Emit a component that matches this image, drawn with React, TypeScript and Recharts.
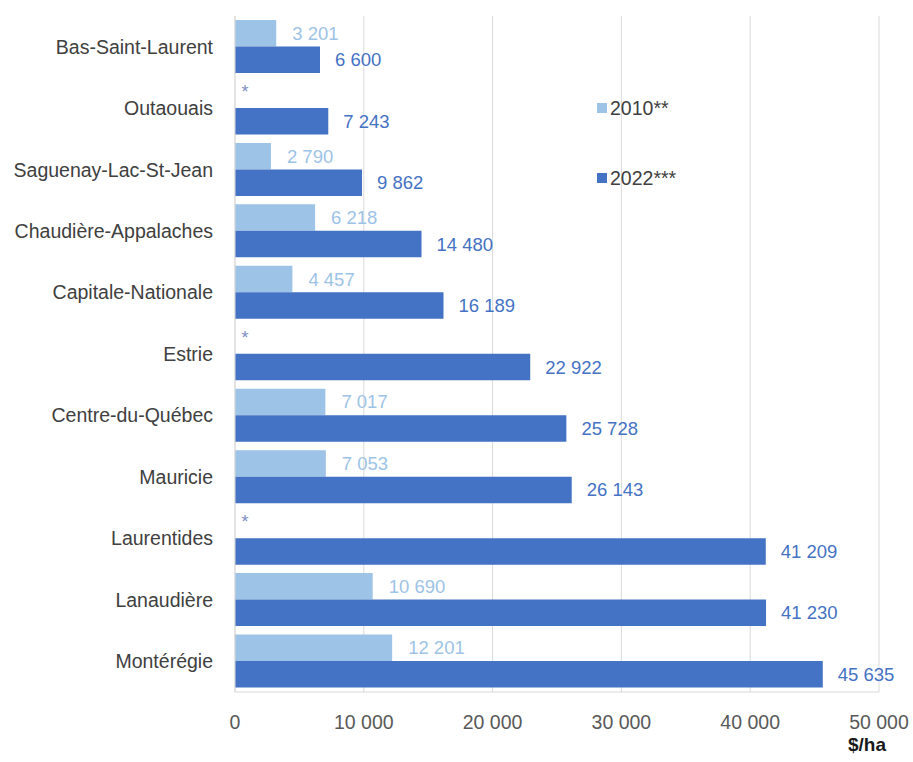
import { BarChart, Bar, XAxis, YAxis, CartesianGrid, LabelList } from 'recharts'

const REGIONS = [
  'Bas-Saint-Laurent',
  'Outaouais',
  'Saguenay-Lac-St-Jean',
  'Chaudière-Appalaches',
  'Capitale-Nationale',
  'Estrie',
  'Centre-du-Québec',
  'Mauricie',
  'Laurentides',
  'Lanaudière',
  'Montérégie',
]

// null = no 2010 data (shown as *)
const VALUES_2010 = [3201, null, 2790, 6218, 4457, null, 7017, 7053, null, 10690, 12201]
const VALUES_2022 = [6600, 7243, 9862, 14480, 16189, 22922, 25728, 26143, 41209, 41230, 45635]

const X_TICKS = [0, 10000, 20000, 30000, 40000, 50000]

const LIGHT = '#9dc3e6'
const DARK = '#4472c4'
const FONT = '"Liberation Sans", Arial, sans-serif'

const chartData = REGIONS.map((region, i) => ({
  region,
  y2010: VALUES_2010[i],
  y2022: VALUES_2022[i],
}))

const fmt = (v: number) => String(v).replace(/\B(?=(\d{3})+(?!\d))/g, ' ')

function makeLabel(color: string, offset: number, withStar: boolean) {
  return (props: any) => {
    const { x, y, width, height, value, index } = props
    const cy = Number(y) + Number(height) / 2
    return (
      <g>
        {withStar && VALUES_2010[index] == null && (
          <text x={Number(x) + 10} y={cy - Number(height) - 3} fill="#7f8fc4" fontSize={18} textAnchor="middle" dominantBaseline="central" fontFamily={FONT}>
            *
          </text>
        )}
        <text
          x={Number(x) + Number(width) + offset}
          y={cy}
          fill={color}
          fontSize={18.5}
          dominantBaseline="central"
          fontFamily={FONT}
        >
          {fmt(value)}
        </text>
      </g>
    )
  }
}

const LEGEND = [
  { label: '2010**', color: LIGHT, top: 96 },
  { label: '2022***', color: DARK, top: 166 },
]

export default function App() {
  return (
    <div style={{ position: 'absolute', left: 0, top: 0, width: 913, height: 762, background: '#fff' }}>
      <BarChart
        width={913}
        height={762}
        data={chartData}
        layout="vertical"
        margin={{ top: 16, right: 34, bottom: 30, left: 0 }}
        barSize={26.5}
        barGap={0}
      >
        <CartesianGrid horizontal={false} stroke="#d9d9d9" />
        <XAxis
          type="number"
          domain={[0, 50000]}
          ticks={X_TICKS}
          tickFormatter={fmt}
          height={40}
          tickLine={false}
          tickMargin={17}
          stroke="#d9d9d9"
          tick={{ fill: '#595959', fontSize: 19.5, fontFamily: FONT }}
          interval={0}
        />
        <YAxis
          type="category"
          dataKey="region"
          width={235}
          tickLine={false}
          tickMargin={16}
          stroke="#d9d9d9"
          tick={{ fill: '#404040', fontSize: 19.5, fontFamily: FONT }}
          interval={0}
        />
        <Bar dataKey="y2010" fill={LIGHT} isAnimationActive={false}>
          <LabelList dataKey="y2010" content={makeLabel(LIGHT, 16, false)} />
        </Bar>
        <Bar dataKey="y2022" fill={DARK} isAnimationActive={false}>
          <LabelList dataKey="y2022" content={makeLabel(DARK, 15, true)} />
        </Bar>
      </BarChart>
      {LEGEND.map((it) => (
        <div
          key={it.label}
          style={{ position: 'absolute', left: 597, top: it.top, display: 'flex', alignItems: 'center', height: 24, fontFamily: FONT }}
        >
          <span style={{ width: 10, height: 10, background: it.color, marginRight: 3 }} />
          <span style={{ fontSize: 19.5, color: '#404040' }}>{it.label}</span>
        </div>
      ))}
      <div
        style={{
          position: 'absolute',
          left: 848,
          top: 734,
          fontFamily: FONT,
          fontWeight: 'bold',
          fontSize: 19,
          color: '#1a1a1a',
        }}
      >
        $/ha
      </div>
    </div>
  )
}
